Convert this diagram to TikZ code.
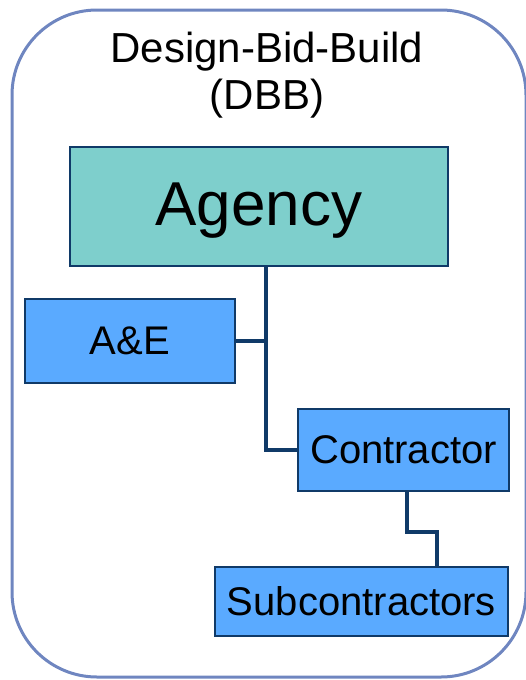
\documentclass[tikz,border=0pt]{standalone}
\usepackage{fontspec}
\setmainfont{Liberation Sans}
\usepackage{tikz}
\usetikzlibrary{positioning,calc}

\definecolor{frameblue}{RGB}{111,134,192}
\definecolor{agencyteal}{RGB}{126,207,204}
\definecolor{partyblue}{RGB}{90,170,255}
\definecolor{linenavy}{RGB}{16,58,104}

\begin{document}
\begin{tikzpicture}[x=1pt, y=-1pt,
    title/.style={align=center, font=\fontsize{42}{47}\selectfont},
    box/.style={rectangle, draw=linenavy, line width=1.5pt, fill=partyblue, inner sep=0pt, font=\fontsize{40}{44}\selectfont},
    link/.style={draw=linenavy, line width=3.6pt}
]
\useasboundingbox (0,0) rectangle (525,680);

% Frame
\draw[frameblue, line width=3pt, rounded corners=85pt] (12,10) rectangle (526,677);
\node[title] (dbb) at (267,75) {Design-Bid-Build\\(DBB)};

% Parties
\node[box, fill=agencyteal, minimum width=378pt, minimum height=119pt, font=\fontsize{62}{70}\selectfont, text depth=4pt] (agency) at (259,206.5) {Agency};
\node[box, minimum width=210pt, minimum height=84pt] (ae) at (130,341) {A\&E};
\node[box, minimum width=211pt, minimum height=82pt] (contractor) at (403.5,450) {Contractor};
\node[box, minimum width=293pt, minimum height=69pt] (sub) at (361.5,601.5) {Subcontractors};

% Links
\coordinate (jn) at (266,341);
\coordinate (k1) at (407,532);
\coordinate (k2) at (437,532);
\draw[link] (agency.south -| jn) -- (jn |- contractor.west) -- (contractor.west);
\draw[link] (ae.east) -- (jn);
\draw[link] (contractor.south -| k1) -- (k1) -- (k2) -- (k2 |- sub.north);

\end{tikzpicture}
\end{document}
